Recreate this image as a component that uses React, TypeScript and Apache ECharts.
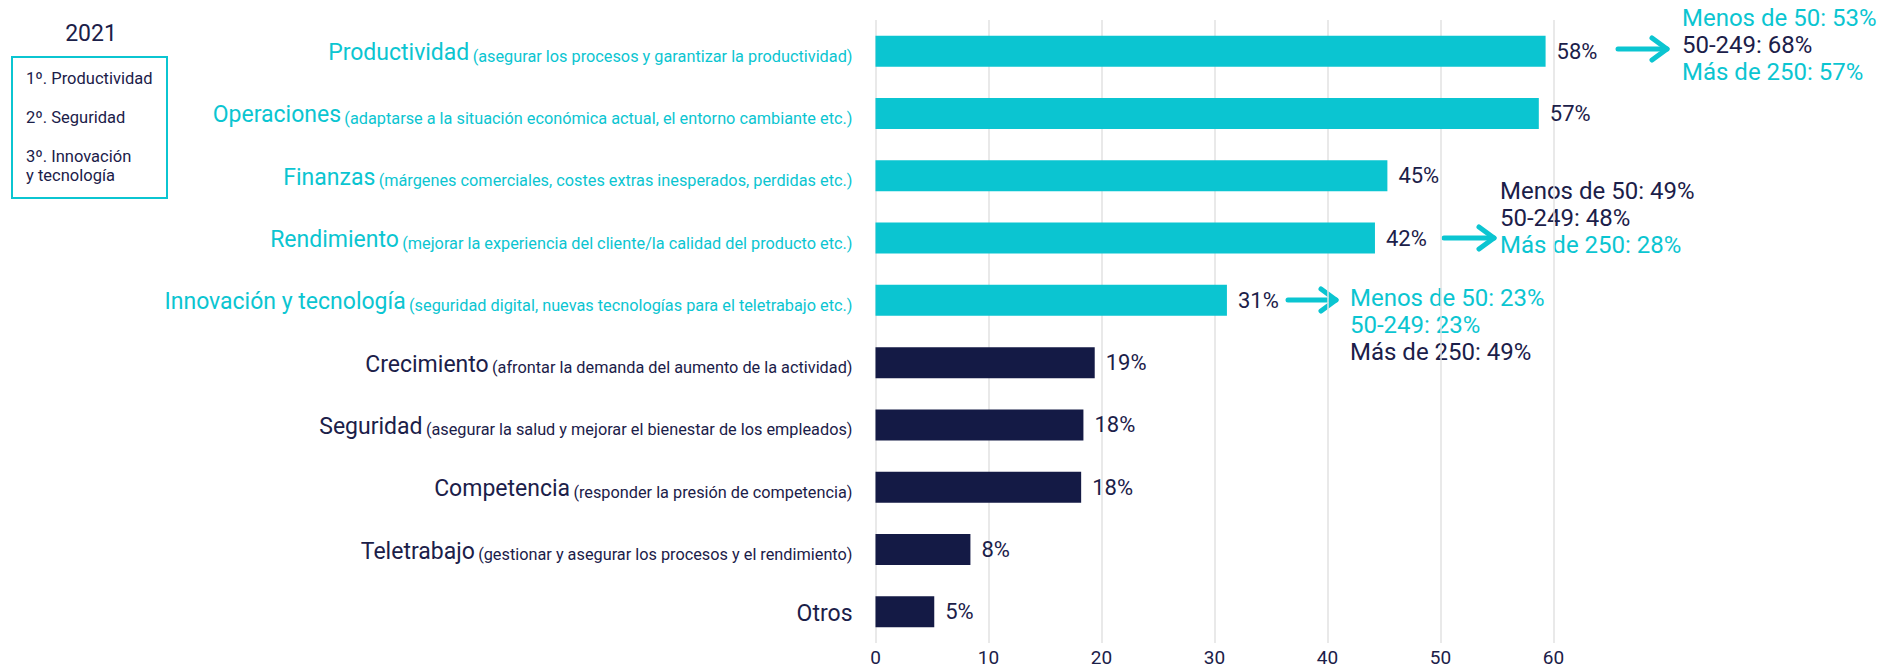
import React, { useEffect, useRef } from "react";
import * as echarts from "echarts";

// ---------- data ----------
const categoryNames = [
  "Productividad",
  "Operaciones",
  "Finanzas",
  "Rendimiento",
  "Innovación y tecnología",
  "Crecimiento",
  "Seguridad",
  "Competencia",
  "Teletrabajo",
  "Otros",
];
const categoryDescriptions = [
  "(asegurar los procesos y garantizar la productividad)",
  "(adaptarse a la situación económica actual, el entorno cambiante etc.)",
  "(márgenes comerciales, costes extras inesperados, perdidas etc.)",
  "(mejorar la experiencia del cliente/la calidad del producto etc.)",
  "(seguridad digital, nuevas tecnologías para el teletrabajo etc.)",
  "(afrontar la demanda del aumento de la actividad)",
  "(asegurar la salud y mejorar el bienestar de los empleados)",
  "(responder la presión de competencia)",
  "(gestionar y asegurar los procesos y el rendimiento)",
  "",
];
const barValues = [59.3, 58.7, 45.3, 44.2, 31.1, 19.4, 18.4, 18.2, 8.4, 5.2];
const valueLabels = ["58%", "57%", "45%", "42%", "31%", "19%", "18%", "18%", "8%", "5%"];
const highlighted = [true, true, true, true, true, false, false, false, false, false];

const xMin = 0;
const xMax = 60;
const xInterval = 10;

const legendTitle = "2021";
const rankingLines = ["1º. Productividad", "2º. Seguridad", "3º. Innovación", "y tecnología"];

const annProductividadText = ["Menos de 50: 53%", "50-249: 68%", "Más de 250: 57%"];
const annProductividadHl = [true, false, true];
const annRendimientoText = ["Menos de 50: 49%", "50-249: 48%", "Más de 250: 28%"];
const annRendimientoHl = [false, false, true];
const annInnovacionText = ["Menos de 50: 23%", "50-249: 23%", "Más de 250: 49%"];
const annInnovacionHl = [true, true, false];

// ---------- styles ----------
const CYAN = "#0bc5d1";
const NAVY = "#141a45";
const TEXT_NAVY = "#1b2049";
const GRID = "#e2e2e2";
const FONT = "Roboto, 'Noto Sans', sans-serif";

const W = 1892;
const H = 669;

export default function App() {
  const ref = useRef<HTMLDivElement>(null);

  useEffect(() => {
    document.body.style.margin = "0";
    if (!ref.current) return;
    const chart = echarts.init(ref.current, undefined, { renderer: "svg" });

    const annotationBlocks = [
      { texts: annProductividadText, hl: annProductividadHl, arrowX0: 1618, arrowX1: 1667, arrowY: 49, textX: 1682, textY0: 18 },
      { texts: annRendimientoText, hl: annRendimientoHl, arrowX0: 1444, arrowX1: 1494, arrowY: 238, textX: 1500, textY0: 191 },
      { texts: annInnovacionText, hl: annInnovacionHl, arrowX0: 1288, arrowX1: 1336, arrowY: 300, textX: 1350, textY0: 298 },
    ];

    const graphics: any[] = [];
    annotationBlocks.forEach((b) => {
      graphics.push({
        type: "polyline",
        shape: { points: [[b.arrowX0, b.arrowY], [b.arrowX1, b.arrowY]] },
        style: { stroke: CYAN, lineWidth: 5, lineCap: "round", fill: null },
        silent: true,
      });
      graphics.push({
        type: "polyline",
        shape: { points: [[b.arrowX1 - 15, b.arrowY - 11], [b.arrowX1, b.arrowY], [b.arrowX1 - 15, b.arrowY + 11]] },
        style: { stroke: CYAN, lineWidth: 5, lineCap: "round", lineJoin: "round", fill: null },
        silent: true,
      });
      b.texts.forEach((t, i) => {
        graphics.push({
          type: "text",
          x: b.textX,
          y: b.textY0 + i * 27,
          style: {
            text: t,
            fill: b.hl[i] ? CYAN : TEXT_NAVY,
            fontSize: 24,
            fontFamily: FONT,
            align: "left",
            verticalAlign: "middle",
            textAlign: "left",
            textVerticalAlign: "middle",
          },
          silent: true,
        });
      });
    });

    // legend box
    graphics.push({
      type: "text",
      x: 91,
      y: 33,
      style: {
        text: legendTitle,
        fill: TEXT_NAVY,
        fontSize: 23,
        fontFamily: FONT,
        align: "center",
        verticalAlign: "middle",
        textAlign: "center",
        textVerticalAlign: "middle",
      },
      silent: true,
    });
    graphics.push({
      type: "rect",
      shape: { x: 12, y: 57, width: 155, height: 141 },
      style: { fill: null, stroke: CYAN, lineWidth: 2 },
      silent: true,
    });
    const rankY = [78, 117, 156, 175];
    rankingLines.forEach((t, i) => {
      graphics.push({
        type: "text",
        x: 26,
        y: rankY[i],
        style: {
          text: t,
          fill: TEXT_NAVY,
          fontSize: 16.5,
          fontFamily: FONT,
          align: "left",
          verticalAlign: "middle",
          textAlign: "left",
          textVerticalAlign: "middle",
        },
        silent: true,
      });
    });

    const option: any = {
      animation: false,
      backgroundColor: "#ffffff",
      grid: { left: 875.5, right: 338.5, top: 20, bottom: 26, containLabel: false },
      xAxis: {
        type: "value",
        min: xMin,
        max: xMax,
        interval: xInterval,
        axisLine: { show: false },
        axisTick: { show: false },
        splitLine: { show: true, lineStyle: { color: GRID, width: 1.5 } },
        axisLabel: { color: TEXT_NAVY, fontSize: 19, fontFamily: FONT, margin: 5 },
      },
      yAxis: {
        type: "category",
        inverse: true,
        data: categoryNames,
        axisLine: { show: false },
        axisTick: { show: false },
        splitLine: { show: false },
        axisLabel: {
          margin: 23,
          formatter: (value: string, index: number) => {
            const hl = highlighted[index];
            const desc = categoryDescriptions[index];
            const m = hl ? "mc" : "mn";
            const d = hl ? "dc" : "dn";
            return desc ? `{${m}|${value}} {${d}|${desc}}` : `{${m}|${value}}`;
          },
          rich: {
            mc: { color: CYAN, fontSize: 23, fontFamily: FONT, lineHeight: 26, verticalAlign: "bottom" },
            mn: { color: TEXT_NAVY, fontSize: 23, fontFamily: FONT, lineHeight: 26, verticalAlign: "bottom" },
            dc: { color: CYAN, fontSize: 16.3, fontFamily: FONT, lineHeight: 21, verticalAlign: "bottom" },
            dn: { color: TEXT_NAVY, fontSize: 16.3, fontFamily: FONT, lineHeight: 21, verticalAlign: "bottom" },
          },
        },
      },
      series: [
        {
          type: "bar",
          barWidth: 31,
          data: barValues.map((v, i) => ({
            value: v,
            itemStyle: { color: highlighted[i] ? CYAN : NAVY },
          })),
          label: {
            show: true,
            position: "right",
            distance: 11,
            color: TEXT_NAVY,
            fontSize: 22,
            fontFamily: FONT,
            formatter: (p: any) => valueLabels[p.dataIndex],
          },
        },
      ],
      graphic: graphics,
    };

    chart.setOption(option);
    return () => chart.dispose();
  }, []);

  return <div ref={ref} style={{ width: W, height: H }} />;
}
